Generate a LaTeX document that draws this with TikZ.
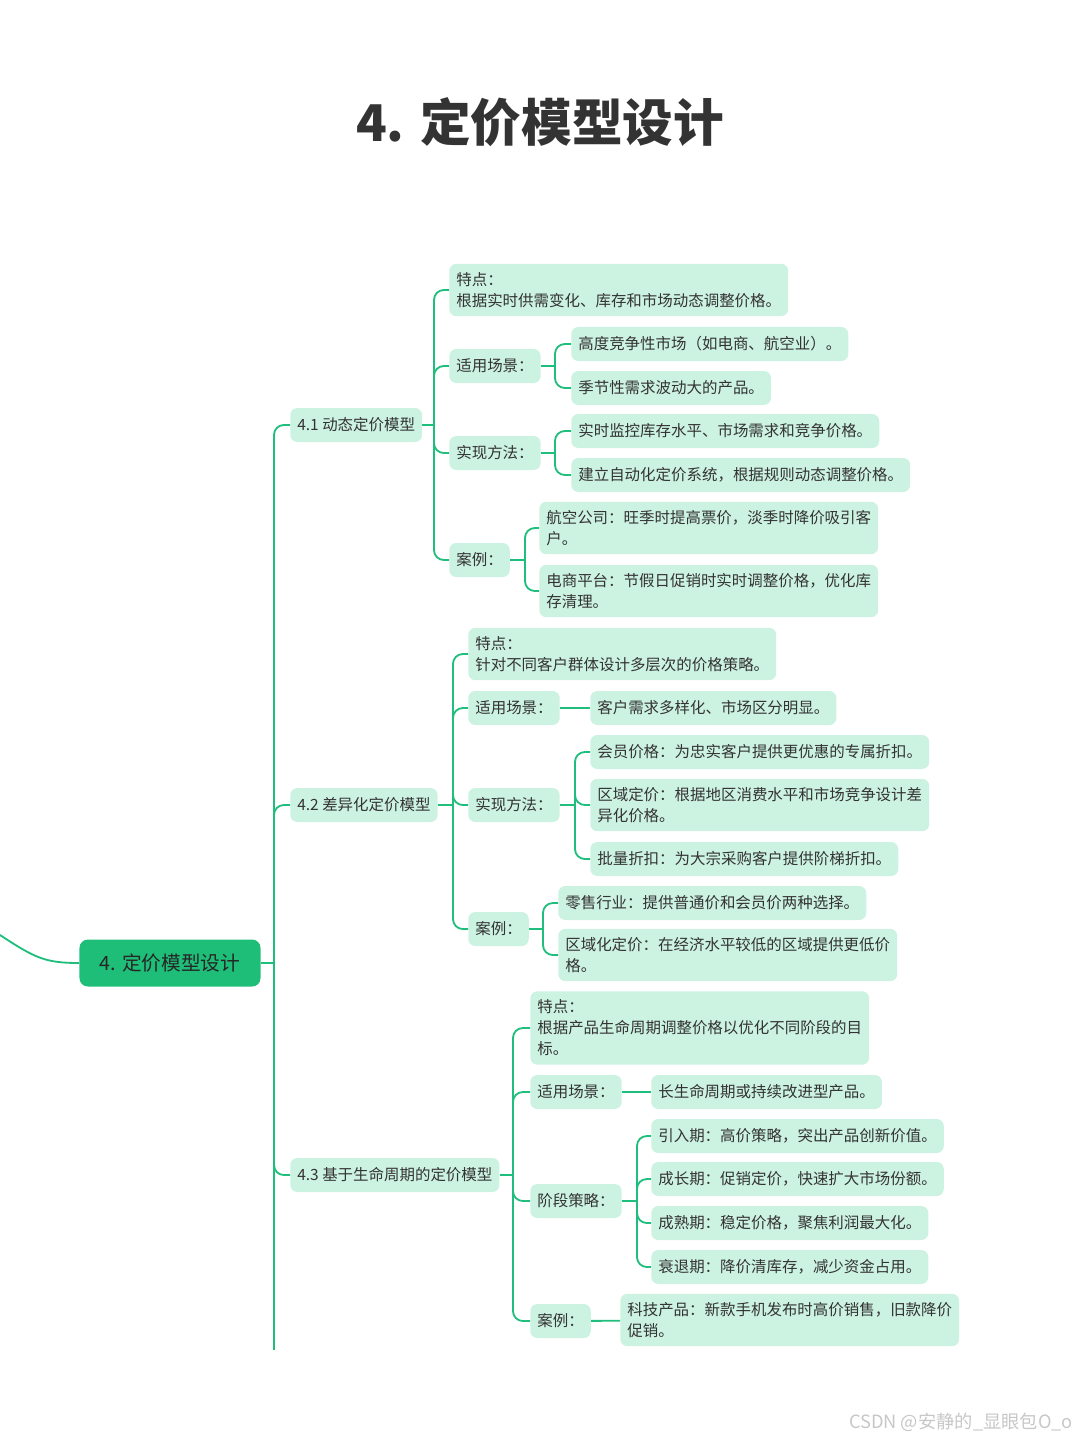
\documentclass[tikz,border=0pt]{standalone}
\usepackage{fontspec}
\setmainfont{Noto Sans CJK SC}
\usetikzlibrary{positioning}
\definecolor{mindline}{HTML}{20BE7C}
\definecolor{mindfill}{HTML}{CCF2E2}
\definecolor{rootfill}{HTML}{1EBE78}
\definecolor{mindtext}{HTML}{333333}
\tikzset{
    box/.style = {rectangle, fill=mindfill, rounded corners=5pt, anchor=west, align=left, text=mindtext,
                  font=\fontsize{11}{15}\selectfont, inner xsep=5pt, inner ysep=6pt, minimum height=0.85cm},
    root/.style = {rectangle, fill=rootfill, rounded corners=6pt, text=black!85, font=\fontsize{14}{16}\selectfont,
                   minimum width=4.525cm, minimum height=1.175cm},
    link/.style = {draw=mindline, line width=1.3pt, rounded corners=7pt}
}
\begin{document}
\begin{tikzpicture}[x=0.025cm, y=-0.025cm]
        \useasboundingbox (0,0) rectangle (1080,1440);

        % Title
        \node[text=mindtext, font=\fontsize{36}{40}\selectfont\bfseries] (title) at (540,122) {4. 定价模型设计};

        % Nodes
        \node [root] (root) at (170,963) {4. 定价模型设计};

        \node [box] (n41) at (290,425) {4.1 动态定价模型};
        \node [box] (n42) at (290,805) {4.2 差异化定价模型};
        \node [box] (n43) at (290,1175) {4.3 基于生命周期的定价模型};

        % 4.1
        \node [box] (a1) at (449,290) {特点：\\根据实时供需变化、库存和市场动态调整价格。};
        \node [box] (a2) at (449,366) {适用场景：};
        \node [box] (a21) at (571,344) {高度竞争性市场（如电商、航空业）。};
        \node [box] (a22) at (571,388) {季节性需求波动大的产品。};
        \node [box] (a3) at (449,453) {实现方法：};
        \node [box] (a31) at (571,431) {实时监控库存水平、市场需求和竞争价格。};
        \node [box] (a32) at (571,475) {建立自动化定价系统，根据规则动态调整价格。};
        \node [box] (a4) at (449,560) {案例：};
        \node [box] (a41) at (539,528) {航空公司：旺季时提高票价，淡季时降价吸引客\\户。};
        \node [box] (a42) at (539,591) {电商平台：节假日促销时实时调整价格，优化库\\存清理。};

        % 4.2
        \node [box] (b1) at (468,654) {特点：\\针对不同客户群体设计多层次的价格策略。};
        \node [box] (b2) at (468,708) {适用场景：};
        \node [box] (b21) at (590,708) {客户需求多样化、市场区分明显。};
        \node [box] (b3) at (468,805) {实现方法：};
        \node [box] (b31) at (590,752) {会员价格：为忠实客户提供更优惠的专属折扣。};
        \node [box] (b32) at (590,805) {区域定价：根据地区消费水平和市场竞争设计差\\异化价格。};
        \node [box] (b33) at (590,859) {批量折扣：为大宗采购客户提供阶梯折扣。};
        \node [box] (b4) at (468,929) {案例：};
        \node [box] (b41) at (558,903) {零售行业：提供普通价和会员价两种选择。};
        \node [box] (b42) at (558,955) {区域化定价：在经济水平较低的区域提供更低价\\格。};

        % 4.3
        \node [box] (c1) at (530,1028) {特点：\\根据产品生命周期调整价格以优化不同阶段的目\\标。};
        \node [box] (c2) at (530,1092) {适用场景：};
        \node [box] (c21) at (651,1092) {长生命周期或持续改进型产品。};
        \node [box] (c3) at (530,1201) {阶段策略：};
        \node [box] (c31) at (651,1136) {引入期：高价策略，突出产品创新价值。};
        \node [box] (c32) at (651,1179) {成长期：促销定价，快速扩大市场份额。};
        \node [box] (c33) at (651,1223) {成熟期：稳定价格，聚焦利润最大化。};
        \node [box] (c34) at (651,1267) {衰退期：降价清库存，减少资金占用。};
        \node [box] (c4) at (530,1321) {案例：};
        \node [box] (c41) at (620,1320) {科技产品：新款手机发布时高价销售，旧款降价\\促销。};

        % Watermark
        \node[anchor=east, text=black!22, font=\fontsize{13}{15}\selectfont] (mark) at (1078,1422) {CSDN @安静的\_显眼包O\_o};

        % Bus points
        \coordinate (in) at (0,935);
        \coordinate (more) at (274,1350);
        \coordinate (busroot) at (274,963);
        \coordinate (bus41) at (434,425);
        \coordinate (bus42) at (453,805);
        \coordinate (bus43) at (513,1175);
        \coordinate (busa2) at (555,366);
        \coordinate (busa3) at (555,453);
        \coordinate (busa4) at (525,560);
        \coordinate (busb3) at (575,805);
        \coordinate (busb4) at (543,929);
        \coordinate (busc3) at (637,1201);

        % Edges
        \draw [link] (in) .. controls (35,958) and (45,963) .. (root.west);
        \draw [link] (root.east) -- (busroot);
        \draw [link] (busroot) -- (more);
        \foreach \n in {n41, n42, n43}
            \draw [link] (busroot) |- (\n.west);

        \draw [link] (n41.east) -- (bus41);
        \foreach \n in {a1, a2, a3, a4}
            \draw [link] (bus41) |- (\n.west);
        \draw [link] (a2.east) -- (busa2);
        \foreach \n in {a21, a22}
            \draw [link] (busa2) |- (\n.west);
        \draw [link] (a3.east) -- (busa3);
        \foreach \n in {a31, a32}
            \draw [link] (busa3) |- (\n.west);
        \draw [link] (a4.east) -- (busa4);
        \foreach \n in {a41, a42}
            \draw [link] (busa4) |- (\n.west);

        \draw [link] (n42.east) -- (bus42);
        \foreach \n in {b1, b2, b3, b4}
            \draw [link] (bus42) |- (\n.west);
        \draw [link] (b2) -- (b21);
        \draw [link] (b3.east) -- (busb3);
        \foreach \n in {b31, b32, b33}
            \draw [link] (busb3) |- (\n.west);
        \draw [link] (b4.east) -- (busb4);
        \foreach \n in {b41, b42}
            \draw [link] (busb4) |- (\n.west);

        \draw [link] (n43.east) -- (bus43);
        \foreach \n in {c1, c2, c3, c4}
            \draw [link] (bus43) |- (\n.west);
        \draw [link] (c2) -- (c21);
        \draw [link] (c3.east) -- (busc3);
        \foreach \n in {c31, c32, c33, c34}
            \draw [link] (busc3) |- (\n.west);
        \draw [link] (c4) -- (c41);

    \end{tikzpicture}
\end{document}
